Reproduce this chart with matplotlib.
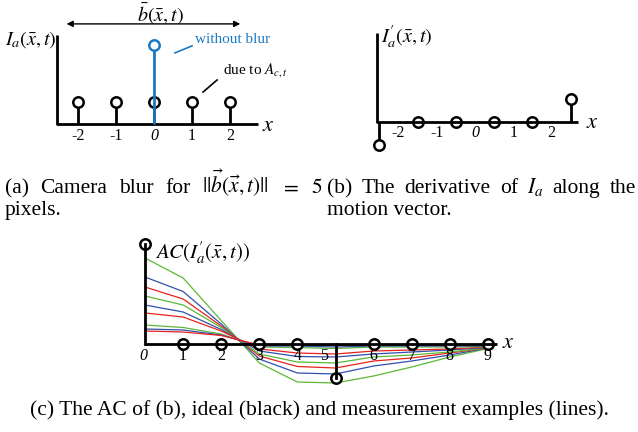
import numpy as np
import matplotlib
matplotlib.use("Agg")
import matplotlib.pyplot as plt

plt.rcParams['font.family'] = ['Liberation Serif', 'DejaVu Serif']
plt.rcParams['mathtext.fontset'] = 'stix'

W, H = 638, 432

# --- data: (a) camera blur ---
a_x = [-2, -1, 0, 1, 2]
a_blur = [1, 1, 1, 1, 1]
a_sharp_x = 0
a_sharp_val = 3.6
a_ticks = ['-2', '-1', '0', '1', '2']

# --- data: (b) derivative along motion ---
b_x = [-2.5, -1.5, -0.5, 0.5, 1.5, 2.5]
b_val = [-1, 0, 0, 0, 0, 1]
b_ticks = ['-2', '-1', '0', '1', '2']

# --- data: (c) autocorrelation, ideal + measured ---
c_x = [0, 1, 2, 3, 4, 5, 6, 7, 8, 9]
c_ideal = [1.0, 0, 0, 0, 0, -0.34, 0, 0, 0, 0]
c_ticks = ['0', '1', '2', '3', '4', '5', '6', '7', '8', '9']
m_g1 = [0.86, 0.66, 0.235, -0.19, -0.38, -0.39, -0.32, -0.23, -0.13, -0.045]
m_b1 = [0.67, 0.525, 0.20, -0.15, -0.29, -0.30, -0.22, -0.17, -0.11, -0.04]
m_r1 = [0.57, 0.45, 0.18, -0.12, -0.225, -0.24, -0.17, -0.14, -0.09, -0.04]
m_g2 = [0.48, 0.39, 0.165, -0.10, -0.18, -0.19, -0.13, -0.11, -0.08, -0.04]
m_b2 = [0.39, 0.32, 0.145, -0.07, -0.125, -0.13, -0.10, -0.08, -0.06, -0.035]
m_r2 = [0.31, 0.27, 0.13, -0.05, -0.09, -0.10, -0.07, -0.06, -0.05, -0.03]
m_g3 = [0.19, 0.165, 0.10, -0.03, -0.035, -0.045, -0.03, -0.03, -0.03, -0.025]
m_b3 = [0.15, 0.14, 0.09, -0.02, -0.02, -0.03, -0.02, -0.02, -0.02, -0.02]
m_r3 = [0.13, 0.12, 0.085, -0.01, -0.01, -0.015, -0.01, -0.01, -0.01, -0.01]
measured = [m_g1, m_b1, m_r1, m_g2, m_b2, m_r2, m_g3, m_b3, m_r3]

GREEN, BLUE, RED = '#5cb836', '#3050b0', '#e8221e'
line_colors = [GREEN, BLUE, RED] * 3
STEM_BLUE = '#1a7ac4'

fig = plt.figure(figsize=(W / 100, H / 100), dpi=100)


def panel_axes(box, ox, oy, sx, sy):
    # box in pixels (left, top, right, bottom); x -> ox + sx*x, y -> oy - sy*y
    l, t, r, b = box
    ax = fig.add_axes([l / W, 1 - b / H, (r - l) / W, (b - t) / H])
    ax.set_xlim((l - ox) / sx, (r - ox) / sx)
    ax.set_ylim((oy - b) / sy, (oy - t) / sy)
    ax.axis('off')
    return ax


circ = dict(marker='o', ms=7.5, mfc='white', mec='black', mew=1.8, ls='none')
LW = 2.0
TICK = 11.5

# ---------------- (a) ----------------
ax = panel_axes((0, 0, 310, 150), 154, 124, 38, 22)
ax.plot([-2.55, -2.55, 2.74], [4.05, 0, 0], color='black', lw=LW, solid_capstyle='butt')
ax.vlines(a_x, 0, a_blur, color='black', lw=LW)
ax.plot(a_x, a_blur, zorder=3, **circ)
ax.vlines(a_sharp_x, 0, a_sharp_val, color=STEM_BLUE, lw=LW, zorder=4)
ax.plot([a_sharp_x], [a_sharp_val], zorder=5,
        **dict(circ, mec=STEM_BLUE))
for xv, lab in zip(a_x, a_ticks):
    ax.text(xv, -0.55, lab, ha='center', va='center', fontsize=TICK,
            style='italic' if lab == '0' else 'normal')
ax.text(2.85, -0.1, '$x$', ha='left', va='center', fontsize=16)
ax.text(-3.93, 3.82, r'$I_a(\bar{x},t)$', ha='left', va='center', fontsize=14.5)
ax.annotate('', xy=(-2.3, 4.55), xytext=(2.27, 4.55),
            arrowprops=dict(arrowstyle='<|-|>', color='black', lw=1.0,
                            mutation_scale=9, shrinkA=0, shrinkB=0))
ax.text(0.16, 5.0, r'$\bar{b}(\bar{x},t)$', ha='center', va='center', fontsize=14.5)
ax.text(1.08, 3.85, 'without blur', ha='left', va='center', fontsize=11, color=STEM_BLUE)
ax.plot([0.55, 1.0], [3.23, 3.55], color=STEM_BLUE, lw=1.2)
ax.text(1.82, 2.45, 'due to $A_{c,t}$', ha='left', va='center', fontsize=11)
ax.plot([1.29, 1.66], [1.45, 2.0], color='black', lw=1.2)

# ---------------- (b) ----------------
ax = panel_axes((330, 0, 638, 165), 475, 122, 38.25, 23)
ax.plot([-2.56, -2.56, 2.69], [3.87, 0, 0], color='black', lw=LW, zorder=4,
        solid_capstyle='butt')
ax.vlines(b_x, 0, b_val, color='black', lw=LW)
ax.plot(b_x, b_val, zorder=3, **circ)
for k, lab in enumerate(b_ticks):
    ax.text(k - 2, -0.48, lab, ha='center', va='center', fontsize=TICK,
            style='italic' if lab == '0' else 'normal')
ax.text(2.9, -0.05, '$x$', ha='left', va='center', fontsize=16)
ax.text(-2.45, 3.7, r"$I_a'(\bar{x},t)$", ha='left', va='center', fontsize=14.5)

# ---------------- (c) ----------------
ax = panel_axes((100, 230, 540, 395), 145, 344, 38.1, 100)
for vals, col in zip(measured, line_colors):
    ax.plot(c_x, vals, color=col, lw=0.9, zorder=2)
ax.plot([0, 0], [0, c_ideal[0]], color='black', lw=LW, zorder=4)
ax.plot([0, 9.24], [0, 0], color='black', lw=LW, zorder=4, solid_capstyle='butt')
ax.plot([5, 5], [0, c_ideal[5]], color='black', lw=LW, zorder=4)
ax.plot(c_x, c_ideal, zorder=3, **circ)
for xv, lab in zip(c_x, c_ticks):
    ax.text(xv - (0.3 if lab == '5' else 0) - (0.05 if lab == '0' else 0), -0.12, lab,
            ha='center', va='center', fontsize=TICK,
            style='italic' if lab == '0' else 'normal')
ax.text(9.38, 0.0, '$x$', ha='left', va='center', fontsize=16)
ax.text(0.25, 0.91, r"$AC(I_a'(\bar{x},t))$", ha='left', va='center', fontsize=15)

# ---------------- captions ----------------
CAP = 15.5
renderer = fig.canvas.get_renderer()


def justified(words, x0, x1, base_y):
    texts = [fig.text(0, 1 - base_y / H, w, fontsize=CAP, va='baseline') for w in words]
    widths = [t.get_window_extent(renderer).width for t in texts]
    gap = (x1 - x0 - sum(widths)) / (len(words) - 1)
    x = x0
    for t, w in zip(texts, widths):
        t.set_x(x / W)
        x += w + gap


justified(['(a)', 'Camera', 'blur', 'for', r'$||\vec{b}(\vec{x},t)||$', '$=$', '$5$'], 5, 322, 193)
fig.text(5 / W, 1 - 215 / H, 'pixels.', fontsize=CAP, va='baseline')
justified(['(b)', 'The', 'derivative', 'of', '$I_a$', 'along', 'the'], 327, 636, 193)
fig.text(327 / W, 1 - 215 / H, 'motion vector.', fontsize=CAP, va='baseline')
fig.text(0.5, 1 - 415 / H,
         '(c) The AC of (b), ideal (black) and measurement examples (lines).',
         fontsize=CAP, va='baseline', ha='center')

fig.savefig('out.png', dpi=100)
